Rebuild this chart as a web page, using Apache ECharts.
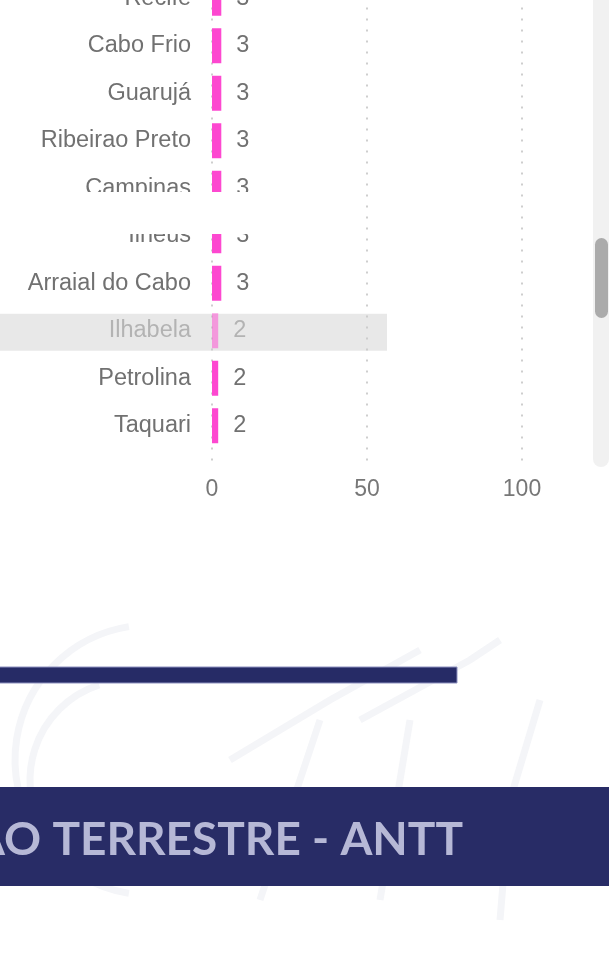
<!DOCTYPE html>
<html>
<head>
<meta charset="utf-8">
<script src="https://cdn.jsdelivr.net/npm/echarts@6/dist/echarts.min.js"></script>
<style>
  html, body { margin: 0; padding: 0; background: #fff; }
  #main { width: 609px; height: 962px; }
</style>
</head>
<body>
<div id="main"></div>
<script>
// dados do gráfico
var cidades = ['Recife', 'Cabo Frio', 'Guarujá', 'Ribeirao Preto', 'Campinas', 'Ilhéus', 'Arraial do Cabo', 'Ilhabela', 'Petrolina', 'Taquari'];
var viagens = [3, 3, 3, 3, 3, 3, 3, 2, 2, 2];
var eixoMin = 0;
var eixoMax = 100;
var eixoPasso = 50;
var destaque = 'Ilhabela';
var tituloFaixa = 'AO TERRESTRE - ANTT';

var rosa = '#fd48d0';
var cinzaTexto = '#717171';
var cinzaClaro = '#b3b3b3';
var fonte = '"Liberation Sans", Arial, sans-serif';

var dom = document.getElementById('main');
var myChart = echarts.init(dom);

var dados = viagens.map(function (v, i) {
    if (cidades[i] === destaque) {
        return {
            value: v,
            itemStyle: { color: 'rgba(253,72,208,0.5)' },
            label: { color: cinzaClaro }
        };
    }
    return v;
});

var option = {
    backgroundColor: '#fff',
    animation: false,
    grid: [
        { left: 212, right: 87, top: -25.5, height: 475, outerBoundsMode: 'none', containLabel: false },
        // grade só para as linhas pontilhadas e rótulos do eixo
        { left: 212, right: 87, top: -25.5, bottom: 495, outerBoundsMode: 'none', containLabel: false }
    ],
    xAxis: [
        {
            type: 'value', gridIndex: 0, min: eixoMin, max: eixoMax, interval: eixoPasso,
            show: false, splitLine: { show: false }
        },
        {
            type: 'value', gridIndex: 1, min: eixoMin, max: eixoMax, interval: eixoPasso,
            axisLine: { show: false },
            axisTick: { show: false },
            axisLabel: { color: '#777', fontSize: 23, fontFamily: fonte, margin: 11 },
            splitLine: { show: true, lineStyle: { color: '#c9c9c9', width: 1.8, type: [2, 9] } }
        }
    ],
    yAxis: [
        {
            type: 'category', gridIndex: 0, data: cidades, inverse: true,
            axisLine: { show: false },
            axisTick: { show: false },
            splitLine: { show: false },
            axisLabel: {
                interval: 0,
                margin: 21,
                padding: [4, 0, 0, 0],
                fontSize: 23.5,
                fontFamily: fonte,
                color: function (value) {
                    return value === destaque ? cinzaClaro : cinzaTexto;
                }
            }
        },
        { type: 'value', gridIndex: 1, min: 0, max: 1, show: false }
    ],
    series: [
        {
            type: 'bar',
            xAxisIndex: 0,
            yAxisIndex: 0,
            data: dados,
            barWidth: 35,
            itemStyle: { color: rosa },
            label: {
                show: true,
                position: 'right',
                distance: 15,
                padding: [3, 0, 0, 0],
                fontSize: 23.5,
                fontFamily: fonte,
                color: cinzaTexto
            },
            z: 3
        }
    ]
};

myChart.setOption(option, true);

// faixa de destaque, barra de rolagem e cabeçalho da página
var yDestaque = myChart.convertToPixel({ yAxisIndex: 0 }, destaque);
var traco = { stroke: '#f4f5f8', lineWidth: 7, fill: null };

myChart.setOption({
    graphic: [
        // marca d'água (bem clara)
        { type: 'arc', silent: true, z: -5, shape: { cx: 150, cy: 760, r: 135, startAngle: Math.PI * 0.55, endAngle: Math.PI * 1.45 }, style: traco },
        { type: 'arc', silent: true, z: -5, shape: { cx: 130, cy: 780, r: 100, startAngle: Math.PI * 0.6, endAngle: Math.PI * 1.4 }, style: traco },
        { type: 'polyline', silent: true, z: -5, shape: { points: [[230, 760], [330, 700], [420, 650]] }, style: traco },
        { type: 'polyline', silent: true, z: -5, shape: { points: [[360, 720], [470, 660], [500, 640]] }, style: traco },
        { type: 'polyline', silent: true, z: -5, shape: { points: [[260, 900], [300, 780], [320, 720]] }, style: traco },
        { type: 'polyline', silent: true, z: -5, shape: { points: [[380, 900], [400, 780], [410, 720]] }, style: traco },
        { type: 'polyline', silent: true, z: -5, shape: { points: [[500, 920], [510, 800], [540, 700]] }, style: traco },
        // linha destacada (hover)
        {
            type: 'rect', silent: true, z: -1,
            shape: { x: 0, y: yDestaque - 17, width: 387, height: 37 },
            style: { fill: 'rgba(0,0,0,0.09)' }
        },
        // emenda branca da captura
        {
            type: 'rect', silent: true, z: 50,
            shape: { x: 0, y: 192, width: 300, height: 42 },
            style: { fill: '#fff' }
        },
        // barra de rolagem
        {
            type: 'rect', silent: true, z: 20,
            shape: { x: 593, y: -10, width: 16, height: 477, r: [0, 0, 8, 8] },
            style: { fill: '#f1f1f1' }
        },
        {
            type: 'rect', silent: true, z: 21,
            shape: { x: 595, y: 238, width: 13, height: 80, r: 6.5 },
            style: { fill: '#ababab' }
        },
        // barra azul
        {
            type: 'rect', silent: true, z: 20,
            shape: { x: -2, y: 667, width: 459, height: 16 },
            style: { fill: '#262b66', stroke: '#8d91bf', lineWidth: 1 }
        },
        // faixa do título
        {
            type: 'rect', silent: true, z: 20,
            shape: { x: 0, y: 787, width: 609, height: 99 },
            style: { fill: '#282c66' }
        },
        {
            type: 'text', silent: true, z: 21,
            x: 463, y: 840,
            style: {
                text: tituloFaixa,
                align: 'right',
                verticalAlign: 'middle',
                fill: '#b6b8d6',
                font: 'bold 46px Lato, "Open Sans", sans-serif'
            }
        }
    ]
});
</script>
</body>
</html>
